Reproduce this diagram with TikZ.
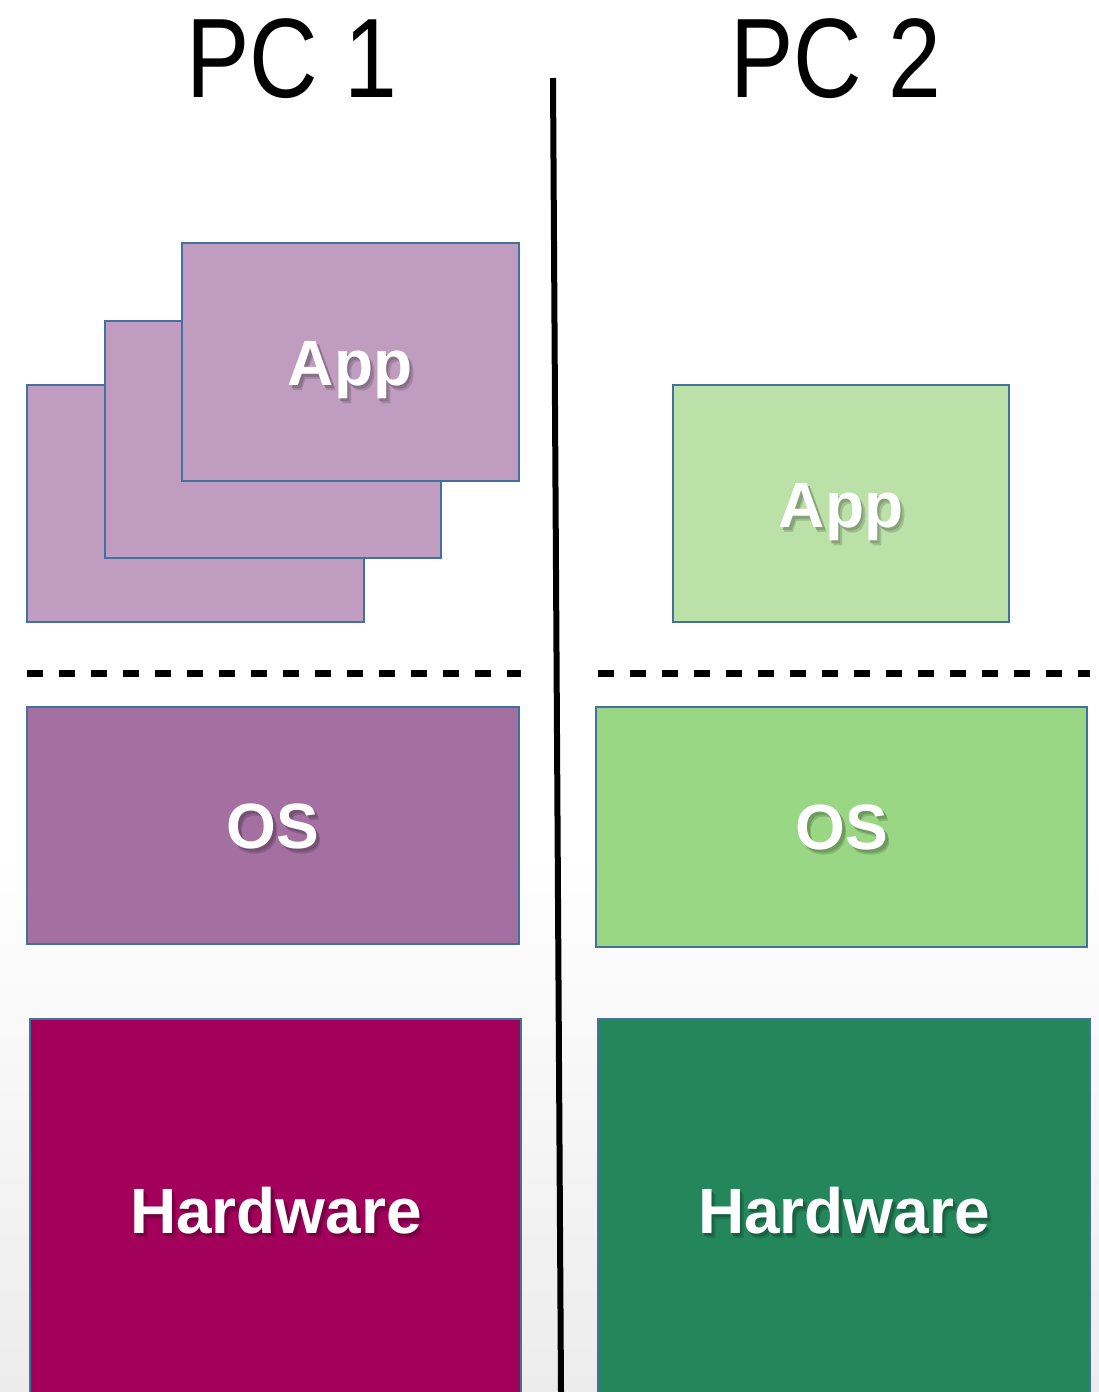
\documentclass[tikz,border=0pt]{standalone}
\usepackage{fontspec}
\setmainfont{Liberation Sans}
\newfontfamily\titlefont{Liberation Sans}
\newfontfamily\labelfont{Liberation Sans}[BoldFont=* Bold]
\definecolor{appP}{RGB}{192,157,192}
\definecolor{osP}{RGB}{164,112,162}
\definecolor{hwP}{RGB}{162,0,91}
\definecolor{appG}{RGB}{187,225,168}
\definecolor{osG}{RGB}{154,215,132}
\definecolor{hwG}{RGB}{36,135,91}
\definecolor{edge}{RGB}{65,113,156}
\definecolor{bgbot}{RGB}{236,236,236}
\newcommand\shlabel[2]{\rlap{\hspace{4pt}\raisebox{-5pt}{\color{#1!85!black}#2}}\rlap{\hspace{2.5pt}\raisebox{-3.5pt}{\color{#1!72!black}#2}}#2}
\begin{document}
\begin{tikzpicture}[x=1pt,y=-1pt,
  layer/.style={draw=edge,line width=1.4pt},
  title/.style={font=\titlefont\fontsize{113}{113}\selectfont,xscale=0.84,anchor=base,inner sep=0pt},
  lbl/.style={font=\labelfont\bfseries\fontsize{64}{64}\selectfont,text=white,anchor=base west,inner sep=0pt},
  sep/.style={line width=7pt,dash pattern=on 16pt off 16pt},
]
\useasboundingbox (0,0) rectangle (1099,1392);
\fill[white] (0,0) rectangle (1099,850);
\shade[top color=white,bottom color=bgbot] (0,849) rectangle (1099,1392);

% divider
\coordinate (divtop) at (553,78);
\coordinate (divbot) at (561,1392);
\draw[line width=6pt] (divtop) -- (divbot);

% titles
\node[title] (t1) at (292,97) {PC 1};
\node[title] (t2) at (836,97) {PC 2};

% PC 1 app stack
\draw[layer,fill=appP] (27,385) rectangle (364,622);
\draw[layer,fill=appP] (105,321) rectangle (441,558);
\draw[layer,fill=appP] (182,243) rectangle (519,481);
% PC 2 app
\draw[layer,fill=appG] (673,385) rectangle (1009,622);

% dashed separators
\coordinate (s1a) at (27,673);
\coordinate (s1b) at (521,673);
\coordinate (s2a) at (598,673);
\coordinate (s2b) at (1090,673);
\draw[sep] (s1a) -- (s1b);
\draw[sep] (s2a) -- (s2b);

% OS
\draw[layer,fill=osP] (27,707) rectangle (519,944);
\draw[layer,fill=osG] (596,707) rectangle (1087,947);

% Hardware
\draw[layer,fill=hwP] (30,1019) rectangle (521,1400);
\draw[layer,fill=hwG] (598,1019) rectangle (1090,1400);

% labels with soft shadow
\node[lbl,anchor=base] (a1) at (350,385) {\shlabel{appP}{App}};
\node[lbl,anchor=base] (a2) at (841,527) {\shlabel{appG}{App}};
\node[lbl,anchor=base] (o1) at (273,848) {\shlabel{osP}{OS}};
\node[lbl,anchor=base] (o2) at (842,849) {\shlabel{osG}{OS}};
\node[lbl,anchor=base] (h1) at (276,1233) {\shlabel{hwP}{Hardware}};
\node[lbl,anchor=base] (h2) at (844,1233) {\shlabel{hwG}{Hardware}};
\end{tikzpicture}
\end{document}
